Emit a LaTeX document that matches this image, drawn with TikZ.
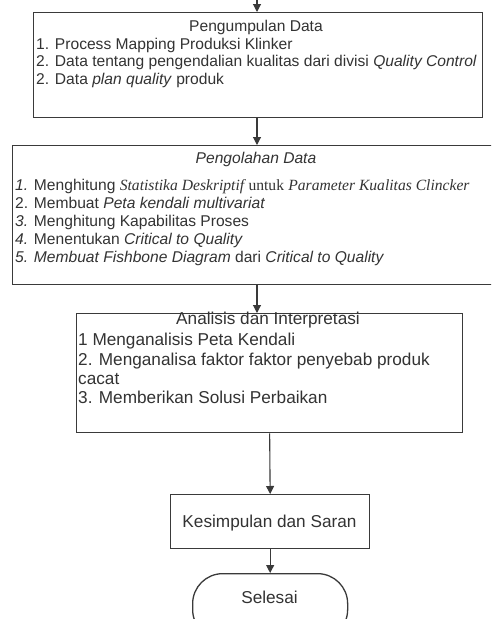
\documentclass[tikz,border=0pt]{standalone}
\usepackage{fontspec}
\setmainfont{Liberation Sans}
\newfontfamily\tms{Liberation Serif}
\usetikzlibrary{arrows.meta}
\definecolor{ink}{HTML}{333333}
\definecolor{edge}{HTML}{3A3A3A}
\begin{document}
\begin{tikzpicture}[x=1pt,y=-1pt,
  boxline/.style={draw=edge, line width=1.3pt, inner sep=0pt},
  smalltxt/.style={anchor=base west, inner sep=0pt, text=ink, font=\fontsize{15.6}{18}\selectfont},
  smallttl/.style={anchor=base, inner sep=0pt, text=ink, font=\fontsize{15.6}{18}\selectfont},
  bigtxt/.style={anchor=base west, inner sep=0pt, text=ink, font=\fontsize{17.2}{20}\selectfont},
  bigttl/.style={anchor=base, inner sep=0pt, text=ink, font=\fontsize{17.2}{20}\selectfont},
  conn/.style={draw=edge, line width=1.1pt, -{Triangle[length=8pt,width=8pt]}}]
\useasboundingbox (0,0) rectangle (491,619);
\clip (0,0) rectangle (491,619);
\fill[white] (0,0) rectangle (491,619);

% boxes
\node[boxline, minimum width=449pt, minimum height=105pt, anchor=north west] (b1) at (33,12) {};
\node[boxline, minimum width=486pt, minimum height=139pt, anchor=north west] (b2) at (12,145) {};
\node[boxline, minimum width=386pt, minimum height=119pt, anchor=north west] (b3) at (76,313) {};
\node[boxline, minimum width=199pt, minimum height=54pt, anchor=north west] (b4) at (170,494) {};
\node[boxline, rounded corners=30pt, minimum width=155pt, minimum height=66pt, anchor=north west] (sel) at (192,573) {};

% box 1 text
\node[smallttl] (t1) at (256,31) {Pengumpulan Data};
\node[smalltxt] (t1a) at (36,49) {1. Process Mapping Produksi Klinker};
\node[smalltxt] (t1b) at (36,66) {2. Data tentang pengendalian kualitas dari divisi \textit{Quality Control}};
\node[smalltxt] (t1c) at (36,84) {2. Data \textit{plan quality} produk};

% box 2 text
\node[smallttl] (t2) at (256,163) {\textit{Pengolahan Data}};
\node[smalltxt] (t2a) at (15,190) {\textit{1.} Menghitung {\tms\itshape Statistika Deskriptif} {\tms untuk} {\tms\itshape Parameter Kualitas Clincker}};
\node[smalltxt] (t2b) at (15,208) {2. Membuat \textit{Peta kendali multivariat}};
\node[smalltxt] (t2c) at (15,226) {\textit{3.} Menghitung Kapabilitas Proses};
\node[smalltxt] (t2d) at (15,244) {\textit{4.} Menentukan \textit{Critical to Quality}};
\node[smalltxt] (t2e) at (15,262) {\textit{5. Membuat Fishbone Diagram} dari \textit{Critical to Quality}};

% box 3 text
\node[bigttl] (t3) at (268,324) {Analisis dan Interpretasi};
\node[bigtxt] (t3a) at (78,345) {1 Menganalisis Peta Kendali};
\node[bigtxt] (t3b) at (78,365) {2. Menganalisa faktor faktor penyebab produk};
\node[bigtxt] (t3c) at (78,384) {cacat};
\node[bigtxt] (t3d) at (78,403) {3. Memberikan Solusi Perbaikan};

% box 4 and end text
\node[bigttl] (t4) at (269.5,527) {Kesimpulan dan Saran};
\node[bigttl] (t5) at (269.5,603) {Selesai};

% connectors
\coordinate (top) at (257,-6);
\draw[conn] (top) -- (top |- b1.north);
\draw[conn] (top |- b1.south) -- (top |- b2.north);
\draw[conn] (top |- b2.south) -- (top |- b3.north);
\draw[conn] (b3.south) -- (b4.north);
\draw[conn] (b4.south) -- (sel.north);
\end{tikzpicture}
\end{document}
